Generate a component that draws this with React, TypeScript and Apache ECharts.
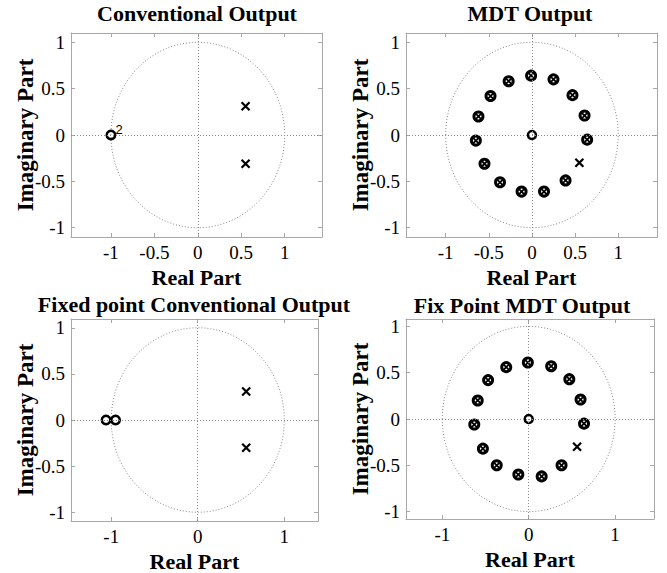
import React, { useEffect, useRef } from "react";
import * as echarts from "echarts";

// ---- data ----
const convZeros = [[-1, 0]];
const convPoles = [[0.55, 0.31], [0.55, -0.31]];

const mdtZeros = [[0, 0]];
const mdtPoles = [[0.55, -0.3]];
const mdtCancelled = [
  [-0.01, 0.64], [0.25, 0.6], [0.47, 0.43], [0.61, 0.21], [0.64, -0.05],
  [0.39, -0.49], [0.14, -0.61], [-0.12, -0.61], [-0.37, -0.51], [-0.55, -0.31],
  [-0.65, -0.06], [-0.62, 0.2], [-0.48, 0.42], [-0.27, 0.58],
];

const fxConvZeros = [[-1.06, 0], [-0.95, 0]];
const fxConvPoles = [[0.56, 0.31], [0.56, -0.3]];

const fxMdtZeros = [[0, 0]];
const fxMdtPoles = [[0.56, -0.3]];
const fxMdtCancelled = [
  [-0.01, 0.61], [0.26, 0.57], [0.47, 0.43], [0.6, 0.21], [0.64, -0.05],
  [0.38, -0.5], [0.15, -0.62], [-0.12, -0.6], [-0.37, -0.5], [-0.53, -0.32],
  [-0.63, -0.06], [-0.59, 0.2], [-0.47, 0.42], [-0.26, 0.56],
];

const ticksFine = [-1, -0.5, 0, 0.5, 1];
const ticksCoarse = [-1, 0, 1];
const titles = [
  "Conventional Output",
  "MDT Output",
  "Fixed point Conventional Output",
  "Fix Point MDT Output",
];
const xName = "Real Part";
const yName = "Imaginary Part";

const SERIF = "'Liberation Serif', 'Times New Roman', serif";
const BOX = "#a8a8a8";
const DOT = "#8a8a8a";
const X_PATH = "path://M0,0L10,10M10,0L0,10";

type Panel = {
  grid: { left: number; top: number; width: number; height: number };
  xr: [number, number];
  yr: [number, number];
  xt: number[];
  title: { x: number; y: number };
  zeros: number[][];
  zeroSize: number;
  poles: number[][];
  both: number[][];
  zeroLabel?: string;
};

const panels: Panel[] = [
  {
    grid: { left: 71, top: 33, width: 251, height: 204 },
    xr: [-1.46, 1.43], yr: [-1.1, 1.1], xt: ticksFine,
    title: { x: 197, y: 13 },
    zeros: convZeros, zeroSize: 8.5, poles: convPoles, both: [], zeroLabel: "2",
  },
  {
    grid: { left: 406, top: 33, width: 251, height: 204 },
    xr: [-1.46, 1.45], yr: [-1.1, 1.1], xt: ticksFine,
    title: { x: 530, y: 13 },
    zeros: mdtZeros, zeroSize: 8, poles: mdtPoles, both: mdtCancelled,
  },
  {
    grid: { left: 71, top: 319, width: 247, height: 202 },
    xr: [-1.465, 1.39], yr: [-1.095, 1.095], xt: ticksCoarse,
    title: { x: 194, y: 304 },
    zeros: fxConvZeros, zeroSize: 8.5, poles: fxConvPoles, both: [],
  },
  {
    grid: { left: 406, top: 319, width: 248, height: 200 },
    xr: [-1.42, 1.45], yr: [-1.08, 1.08], xt: ticksCoarse,
    title: { x: 522, y: 305 },
    zeros: fxMdtZeros, zeroSize: 8, poles: fxMdtPoles, both: fxMdtCancelled,
  },
];

function buildOption() {
  const grid: any[] = [];
  const xAxis: any[] = [];
  const yAxis: any[] = [];
  const series: any[] = [];
  const graphic: any[] = [];

  panels.forEach((p, i) => {
    grid.push({ ...p.grid, containLabel: false });
    const line = { show: true, onZero: false, lineStyle: { color: BOX, width: 1 } };
    const tickX = { show: true, inside: true, length: 4, customValues: p.xt, lineStyle: { color: BOX } };
    const tickY = { show: true, inside: true, length: 4, customValues: ticksFine, lineStyle: { color: BOX } };
    xAxis.push({
      type: "value", gridIndex: i, position: "bottom", min: p.xr[0], max: p.xr[1],
      axisLine: line, axisTick: tickX,
      axisLabel: { customValues: p.xt, color: "#000", fontFamily: SERIF, fontSize: 19, margin: 6 },
      splitLine: { show: false },
      name: xName, nameLocation: "middle", nameGap: 29,
      nameTextStyle: { fontFamily: SERIF, fontSize: 22, fontWeight: "bold", color: "#000" },
    });
    xAxis.push({
      type: "value", gridIndex: i, position: "top", min: p.xr[0], max: p.xr[1],
      axisLine: line, axisTick: tickX, axisLabel: { show: false }, splitLine: { show: false },
    });
    yAxis.push({
      type: "value", gridIndex: i, position: "left", min: p.yr[0], max: p.yr[1],
      axisLine: line, axisTick: tickY,
      axisLabel: { customValues: ticksFine, color: "#000", fontFamily: SERIF, fontSize: 19, margin: 6 },
      splitLine: { show: false },
      name: yName, nameLocation: "middle", nameGap: 34, nameMoveOverlap: false,
      nameTextStyle: { fontFamily: SERIF, fontSize: 23, fontWeight: "bold", color: "#000" },
    });
    yAxis.push({
      type: "value", gridIndex: i, position: "right", min: p.yr[0], max: p.yr[1],
      axisLine: line, axisTick: tickY, axisLabel: { show: false }, splitLine: { show: false },
    });
    const xi = i * 2;
    const yi = i * 2;

    // unit circle + crosshair
    series.push({
      type: "custom", xAxisIndex: xi, yAxisIndex: yi, z: 1, silent: true,
      data: [[0, 0]],
      renderItem: (_params: any, api: any) => {
        const c = api.coord([0, 0]);
        const px = api.coord([1, 0]);
        const py = api.coord([0, 1]);
        return {
          type: "ellipse",
          shape: { cx: c[0], cy: c[1], rx: px[0] - c[0], ry: c[1] - py[1] },
          style: { fill: null, stroke: DOT, lineWidth: 1, lineDash: [1, 2] },
        };
      },
      markLine: {
        silent: true, symbol: ["none", "none"], label: { show: false },
        lineStyle: { color: DOT, width: 1, type: [1, 2] },
        data: [{ xAxis: 0 }, { yAxis: 0 }],
      },
    });

    // cancelled pole/zero pairs
    if (p.both.length) {
      series.push({
        type: "scatter", xAxisIndex: xi, yAxisIndex: yi, z: 3, silent: true,
        data: p.both, symbol: "circle", symbolSize: 9,
        itemStyle: { color: "rgba(0,0,0,0)", borderColor: "#000", borderWidth: 3, opacity: 1 },
      });
      series.push({
        type: "scatter", xAxisIndex: xi, yAxisIndex: yi, z: 4, silent: true,
        data: p.both, symbol: X_PATH, symbolSize: 6,
        itemStyle: { color: "rgba(0,0,0,0)", borderColor: "#000", borderWidth: 1.8, opacity: 1 },
      });
    }
    // zeros
    series.push({
      type: "scatter", xAxisIndex: xi, yAxisIndex: yi, z: 3, silent: true,
      data: p.zeros, symbol: "circle", symbolSize: p.zeroSize,
      itemStyle: { color: "rgba(0,0,0,0)", borderColor: "#000", borderWidth: 2.5, opacity: 1 },
      label: p.zeroLabel
        ? {
            show: true, formatter: p.zeroLabel, position: "right", distance: 2, offset: [-3, -6],
            fontFamily: "'Liberation Sans', Arial, sans-serif", fontSize: 13, color: "#000",
          }
        : { show: false },
    });
    // poles
    series.push({
      type: "scatter", xAxisIndex: xi, yAxisIndex: yi, z: 3, silent: true,
      data: p.poles, symbol: X_PATH, symbolSize: 8,
      itemStyle: { color: "rgba(0,0,0,0)", borderColor: "#000", borderWidth: 2.2, opacity: 1 },
    });

    graphic.push({
      type: "text", x: p.title.x, y: p.title.y, silent: true,
      style: {
        text: titles[i], fill: "#000", font: `bold 22px ${SERIF}`,
        textAlign: "center", textVerticalAlign: "middle",
      },
    });
  });

  return {
    animation: false,
    backgroundColor: "#fff",
    grid, xAxis, yAxis, series, graphic,
  };
}

export default function App() {
  const ref = useRef<HTMLDivElement>(null);
  useEffect(() => {
    if (!ref.current) return;
    const chart = echarts.init(ref.current, null, { renderer: "svg" });
    chart.setOption(buildOption() as any);
    return () => chart.dispose();
  }, []);
  return (
    <div
      ref={ref}
      style={{ position: "fixed", left: 0, top: 0, width: 667, height: 573, background: "#fff" }}
    />
  );
}
